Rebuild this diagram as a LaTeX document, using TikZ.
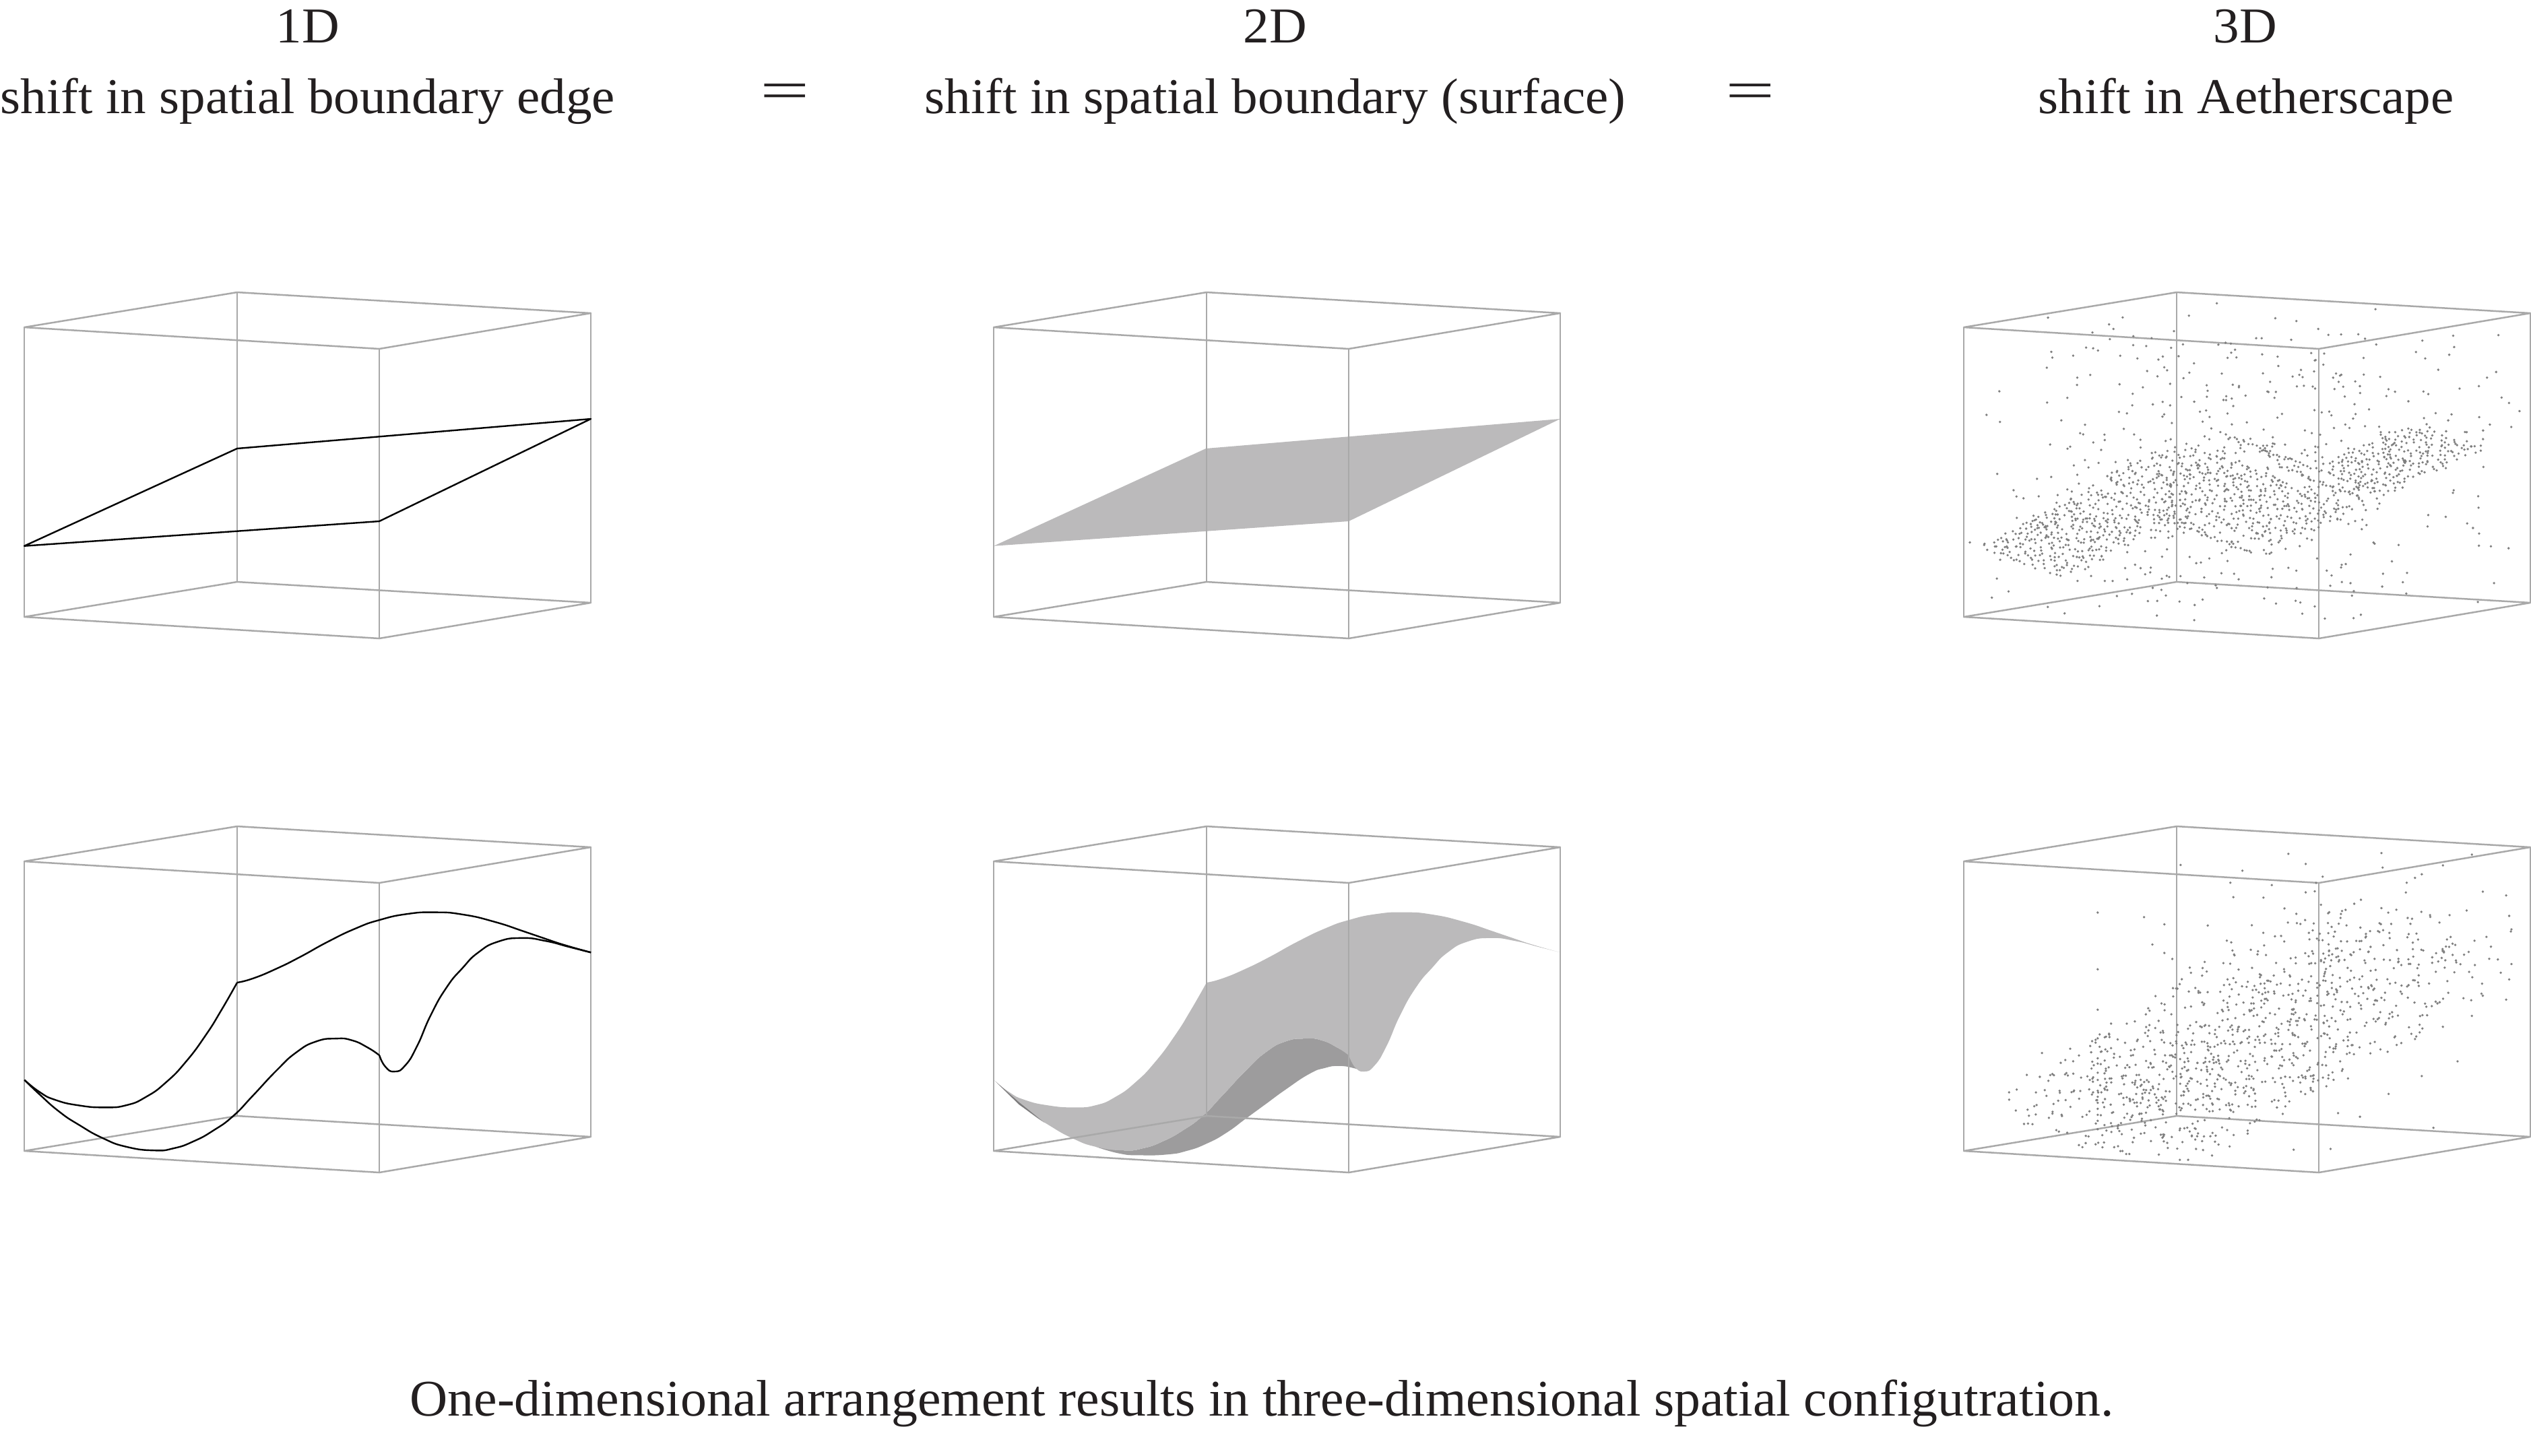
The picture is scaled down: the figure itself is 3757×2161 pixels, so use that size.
\documentclass[tikz,border=0pt]{standalone}
\usepackage{fontspec}
\setmainfont{Liberation Serif}
\definecolor{boxgrey}{HTML}{A9A9A9}
\definecolor{inkc}{HTML}{231F20}
\definecolor{surfl}{HTML}{BBBABB}
\definecolor{surfd}{HTML}{9D9C9D}
\definecolor{surfs}{HTML}{7D7C7D}
\definecolor{dotc}{HTML}{7F7F7F}
\tikzset{
  boxline/.style={draw=boxgrey,line width=.5pt,line join=round},
  edgeline/.style={draw=black,line width=.48pt,line join=round},
  lab/.style={anchor=base,inner sep=0pt,text=inkc,xscale=1.035,font=\fontsize{14.9pt}{17pt}\selectfont},
  capt/.style={anchor=base,inner sep=0pt,text=inkc,xscale=1.02,font=\fontsize{15.25pt}{17pt}\selectfont},
  eqsign/.style={inner sep=0pt,text=inkc,yscale=.62,font=\fontsize{26pt}{28pt}\selectfont},
  dotmark/.style={fill=dotc},
  zoomframe/.style={x=.11734pt,y=-.07142pt},
  dotframe/.style={x=.11186pt,y=-.07142pt}
}
% traced curves, in a local frame shared by the lower panels
\def\curveA{(62,1130)(100,1180)(140,1213)(200,1236)(265,1244)(320,1235)(370,1200)(420,1140)(470,1055)(520,945)(560,840)(600,725)}
\def\curveB{(600,725)(640,708)(700,667)(760,618)(830,555)(900,500)(960,465)(1030,440)(1100,433)(1170,442)(1250,472)(1330,515)(1410,560)(1495,600)}
\def\curveC{(62,1130)(100,1190)(150,1262)(200,1317)(260,1372)(320,1408)(390,1423)(440,1414)(490,1385)(540,1340)(590,1280)(640,1195)(700,1090)(750,1015)(800,970)(850,958)(890,965)(930,995)(960,1028)}
\def\curveD{(960,1028)(975,1075)(998,1095)(1025,1070)(1055,990)(1090,860)(1130,745)(1170,665)(1210,600)(1260,555)(1320,540)(1380,552)(1440,577)(1495,600)}
\def\curveDr{(1495,600)(1440,577)(1380,552)(1320,540)(1260,555)(1210,600)(1170,665)(1130,745)(1090,860)(1055,990)(1025,1070)(998,1095)(975,1075)(960,1028)}
\def\curveCr{(960,1028)(930,995)(890,965)(850,958)(800,970)(750,1015)(700,1090)(640,1195)(590,1280)(540,1340)(490,1385)(440,1414)(390,1423)(320,1408)(260,1372)(200,1317)(150,1262)(100,1190)(62,1130)}
\newcommand{\cubeframe}[2]{%
  \begin{scope}[shift={(#1,#2)}]
    \draw[boxline] (36,0) -- (352,-52) -- (877,-21) -- (563,32) -- cycle;
    \draw[boxline] (36,430) -- (352,378) -- (877,409) -- (563,462) -- cycle;
    \draw[boxline] (36,0) -- (36,430) (352,-52) -- (352,378) (877,-21) -- (877,409) (563,32) -- (563,462);
  \end{scope}}
\begin{document}
\begin{tikzpicture}[x=.2pt,y=-.2pt]
\path[use as bounding box] (0,0) rectangle (3757,2161);

% headings
\node[lab] (h1a) at (457,63) {1D};
\node[lab] (h1b) at (457,168) {shift in spatial boundary edge};
\node[lab] (h2a) at (1893,63) {2D};
\node[lab] (h2b) at (1893,168) {shift in spatial boundary (surface)};
\node[lab] (h3a) at (3333,63) {3D};
\node[lab] (h3b) at (3334,168) {shift in Aetherscape};
\node[eqsign] (eq1) at (1165,143) {=};
\node[eqsign] (eq2) at (2598,143) {=};
\node[capt] (cap) at (1873,2102) {One-dimensional arrangement results in three-dimensional spatial configutration.};

% surfaces (under the frames)
\fill[surfl] (1475,810.7) -- (1790,666) -- (2316,622) -- (2002,774) -- cycle;
\begin{scope}[shift={(1439,1200)},zoomframe]
  \fill[surfd] plot[smooth,tension=.9] coordinates {(320,1408)(390,1423)(440,1414)(490,1385)(540,1340)(590,1280)(640,1195)(700,1090)(750,1015)(800,970)(850,958)(890,965)(930,995)(960,1028)(975,1075)(998,1095)}
     -- plot[smooth,tension=.9] coordinates {(998,1095)(970,1080)(935,1072)(900,1080)(860,1105)(800,1170)(750,1230)(700,1290)(650,1350)(600,1395)(550,1425)(500,1440)(430,1443)(380,1436)(320,1408)} -- cycle;
  \fill[surfl] plot[smooth,tension=.9] coordinates {\curveA}
     -- plot[smooth,tension=.9] coordinates {\curveB}
     -- plot[smooth,tension=.9] coordinates {\curveDr}
     -- plot[smooth,tension=.9] coordinates {\curveCr} -- cycle;
  \fill[surfs] (66,1136) -- (125,1222) -- (190,1308) -- (125,1232) -- cycle;
\end{scope}

% frames
\foreach \cx in {0,1439,2879}{\cubeframe{\cx}{486}\cubeframe{\cx}{1279}}

% panel one
\draw[edgeline] (36,810.7) -- (352,666) -- (877,622) -- (563,774) -- cycle;
\begin{scope}[shift={(0,1200)},zoomframe]
  \draw[edgeline] plot[smooth,tension=.9] coordinates {\curveA};
  \draw[edgeline] plot[smooth,tension=.9] coordinates {\curveB};
  \draw[edgeline] plot[smooth,tension=.9] coordinates {\curveC};
  \draw[edgeline] plot[smooth,tension=.9] coordinates {\curveD};
\end{scope}

% point cloud, upper panel
\pgfmathsetseed{7}
\begin{scope}[shift={(2880,420)},dotframe]
  % three lattices
  \foreach \ox/\oy/\ax/\ay/\bx/\by/\m/\n in {100/1100/250/-210/220/130/15/15, 420/810/230/-150/460/290/12/26, 1000/760/250/-170/200/100/13/13}{
    \foreach \i in {1,...,\m}{
      \foreach \j in {1,...,\n}{
        \pgfmathsetmacro\pa{(\i-.5+.9*(rnd-.5))/\m}
        \pgfmathsetmacro\pb{(\j-.5+.9*(rnd-.5))/\n}
        \fill[dotmark] ({\ox+\pa*\ax+\pb*\bx},{\oy+\pa*\ay+\pb*\by}) circle[radius=.38pt];
      }
    }
  }
  % tight rows
  \foreach \sx/\sy/\ex/\ey/\k in {395/865/830/1125/44, 490/885/700/1030/20, 740/625/1180/880/44, 890/755/1130/905/24}{
    \foreach \i in {1,...,\k}{
      \pgfmathsetmacro\pa{(\i-rnd)/\k}
      \pgfmathsetmacro\pb{2*rnd-1}
      \fill[dotmark] ({\sx+\pa*(\ex-\sx)+4*\pb},{\sy+\pa*(\ey-\sy)-6*\pb}) circle[radius=.38pt];
    }
  }
  % scattered field
  \foreach \i in {1,...,1000}{
    \pgfmathsetmacro\pu{rnd}
    \pgfmathsetmacro\pv{rnd}
    \pgfmathsetmacro\pw{2*rnd-1}
    \pgfmathsetmacro\pz{.247+.155*\pu+.21*\pv+\pw*abs(\pw)^1.1*.75}
    \pgfmathtruncatemacro\ok{(\pz>0)&&(\pz<1)?1:0}
    \ifnum\ok=1
      \fill[dotmark] ({62+\pu*939+\pv*562},{1388+\pu*87-\pv*146-\pz*1202}) circle[radius=.38pt];
    \fi
  }
\end{scope}

% point cloud, lower panel
\begin{scope}[shift={(2880,1200)},dotframe]
  \foreach \i in {1,...,1200}{
    \pgfmathsetmacro\pt{rnd^1.35}
    \pgfmathsetmacro\pa{rnd+rnd-1}
    \pgfmathsetmacro\pb{rnd+rnd-1}
    \pgfmathsetmacro\px{470+820*\pt+400*\pa}
    \pgfmathsetmacro\py{1290-760*\pt+130*\pa+270*\pb}
    \pgfmathtruncatemacro\ok{(\px<1530)&&(\px>70)&&(\py<1418+(\px-62)*.09)&&(\py>1210-(\px-150)*1.1)&&(\py>200)&&(\py<2100-.9*\px)?1:0}
    \ifnum\ok=1
      \fill[dotmark] (\px,\py) circle[radius=.38pt];
    \fi
  }
  \foreach \px/\py in {638/236,802/260,924/190,970/232,1171/187,1411/193,1174/247,1334/238,1278/275,1260/290,1238/310,1015/285,880/320,970/350,770/310,778/370,858/372,418/434,541/453,595/483,710/488,827/487,418/670,563/567,595/602,616/627,418/838,418/957,423/992,270/1018,345/1000,332/1047,230/1109,292/1110,203/1170,254/1182,183/1212,1373/1053,1278/1114,1190/1188,1114/1283,1056/1268,1309/1329,1036/1417,938/1420,1411/864,1334/909,1260/960,1502/796,1440/780,1502/363,1440/347,1510/448,1516/504,1516/648,1510/712,418/1040,418/1062,418/1100,418/1130,418/1175,418/1200,418/1225,418/1250,418/1275,418/1300,418/1335}{
    \fill[dotmark] (\px,\py) circle[radius=.38pt];
  }
\end{scope}
\end{tikzpicture}
\end{document}
